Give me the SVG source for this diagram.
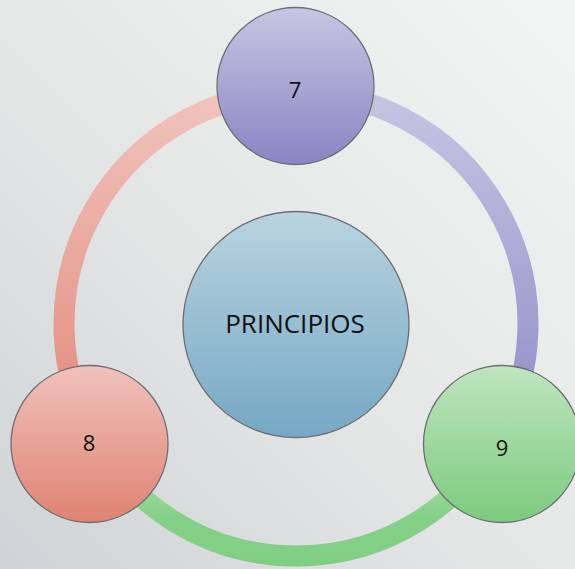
<svg xmlns="http://www.w3.org/2000/svg" width="575" height="569" viewBox="0 0 575 569">
<defs>
<linearGradient id="bg" x1="1" y1="0" x2="0" y2="1">
<stop offset="0" stop-color="#f3f4f4"/>
<stop offset="0.5" stop-color="#e6e8e8"/>
<stop offset="1" stop-color="#d0d3d5"/>
</linearGradient>
<linearGradient id="arcRed" gradientUnits="userSpaceOnUse" x1="0" y1="92" x2="0" y2="445">
<stop offset="0" stop-color="#f0c4bd"/>
<stop offset="1" stop-color="#e2887a"/>
</linearGradient>
<linearGradient id="arcPurple" gradientUnits="userSpaceOnUse" x1="0" y1="92" x2="0" y2="445">
<stop offset="0" stop-color="#c7c5e3"/>
<stop offset="1" stop-color="#8e8ac7"/>
</linearGradient>
<linearGradient id="arcGreen" gradientUnits="userSpaceOnUse" x1="0" y1="440" x2="0" y2="567">
<stop offset="0" stop-color="#b2e2b2"/>
<stop offset="0.6" stop-color="#86d189"/>
<stop offset="1" stop-color="#80ce83"/>
</linearGradient>
<linearGradient id="gPurple" x1="0" y1="0" x2="0" y2="1">
<stop offset="0" stop-color="#c8c6e3"/>
<stop offset="1" stop-color="#8985c4"/>
</linearGradient>
<linearGradient id="gRed" x1="0" y1="0" x2="0" y2="1">
<stop offset="0" stop-color="#f0c2bc"/>
<stop offset="1" stop-color="#df8372"/>
</linearGradient>
<linearGradient id="gGreen" x1="0" y1="0" x2="0" y2="1">
<stop offset="0" stop-color="#c0e5bf"/>
<stop offset="1" stop-color="#7ccb7e"/>
</linearGradient>
<linearGradient id="gBlue" x1="0" y1="0" x2="0" y2="1">
<stop offset="0" stop-color="#b9d4df"/>
<stop offset="1" stop-color="#76a8c5"/>
</linearGradient>
</defs>
<style>
.node { stroke: #6e6e72; stroke-width: 1.3; }
.arc { fill: none; stroke-width: 21; }
.lbl { font-family: "Open Sans", "Noto Sans", "DejaVu Sans", sans-serif; fill: #111111; text-anchor: middle; }
</style>
<rect x="0" y="0" width="575" height="569" fill="url(#bg)"/>
<g id="connectors">
<path class="arc" stroke="url(#arcRed)" d="M 95.1 440 A 232 232 0 0 1 296 92"/>
<path class="arc" stroke="url(#arcPurple)" d="M 296 92 A 232 232 0 0 1 496.9 440"/>
<path class="arc" stroke="url(#arcGreen)" d="M 496.9 440 A 232 232 0 0 1 95.1 440"/>
</g>
<g id="node-principios">
<circle class="node" cx="296" cy="324.5" r="113" fill="url(#gBlue)"/>
<text class="lbl" x="295" y="333" font-size="26">PRINCIPIOS</text>
</g>
<g id="node-7">
<circle class="node" cx="295.5" cy="86" r="78.5" fill="url(#gPurple)"/>
<text class="lbl" x="295" y="97.5" font-size="22">7</text>
</g>
<g id="node-8">
<circle class="node" cx="89.5" cy="444" r="78.5" fill="url(#gRed)"/>
<text class="lbl" x="89" y="450.5" font-size="22">8</text>
</g>
<g id="node-9">
<circle class="node" cx="502" cy="444" r="78.5" fill="url(#gGreen)"/>
<text class="lbl" x="502" y="456" font-size="22">9</text>
</g>
</svg>
